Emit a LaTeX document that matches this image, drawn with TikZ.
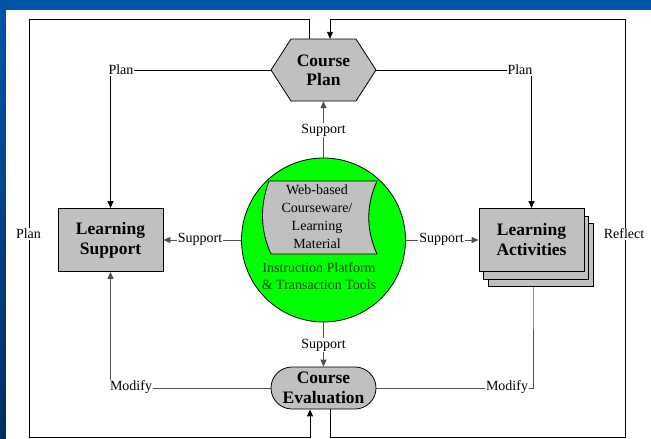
\documentclass[tikz,border=0pt]{standalone}
\usepackage{fontspec}
\setmainfont{Liberation Serif}
\usetikzlibrary{arrows.meta,calc}
\definecolor{bgblue}{RGB}{0,84,166}
\definecolor{bgdark}{RGB}{0,45,100}
\definecolor{boxgray}{RGB}{192,192,192}
\definecolor{platgreen}{RGB}{0,255,0}
\definecolor{txtgreen}{RGB}{0,70,0}
\definecolor{linegray}{RGB}{80,80,80}
\pgfdeclarelayer{bg}
\pgfdeclarelayer{conn}
\pgfsetlayers{bg,conn,main}
\tikzset{
  lbl/.style={fill=white,inner sep=1pt,font=\fontsize{14}{17}\selectfont},
  boldtxt/.style={font=\bfseries\fontsize{17.5}{20}\selectfont,align=center},
  gbox/.style={draw=black,fill=boxgray,line width=0.8pt,minimum width=105pt,minimum height=63pt,inner sep=0pt},
  conn/.style={draw=black,line width=0.9pt},
  gconn/.style={draw=linegray,line width=0.9pt},
  tip/.style={-{Triangle[length=7pt,width=6pt]}}
}
\begin{document}
\begin{tikzpicture}[x=1pt,y=-1pt]
\begin{pgfonlayer}{bg}
\fill[bgblue] (0,0) rectangle (651,439);
\shade[top color=bgblue,bottom color=bgdark] (0,10) rectangle (6,439);
\fill[white] (6,10) rectangle (651,439);
\end{pgfonlayer}
\useasboundingbox (0,0) rectangle (651,439);

% Course Plan hexagon
\fill[boxgray,draw=black,line width=0.8pt] (271,70) -- (291,39) -- (356,39) -- (376,70) -- (356,101) -- (291,101) -- cycle;
\node[boldtxt,minimum width=105pt,minimum height=62pt,inner sep=0pt] (plan) at (323.5,70) {Course\\[-1pt]Plan};

% Platform circle
\node[circle,draw=black,fill=platgreen,line width=0.8pt,minimum size=164pt,inner sep=0pt] (plat) at (323.5,240) {};
\draw[fill=boxgray,line width=0.8pt] (269,181) -- (377,181) .. controls (366,205) and (366,230) .. (377,254) -- (271,254) .. controls (260,230) and (260,205) .. (269,181) -- cycle;
\node[align=center,font=\fontsize{14}{18}\selectfont] (doc) at (317,217) {Web-based\\Courseware/\\Learning\\Material};
\node[align=center,text=txtgreen,font=\fontsize{14}{17}\selectfont] (inst) at (319,276.5) {Instruction Platform\\\& Transaction Tools};

% Learning Support
\node[gbox,boldtxt] (sup) at (110.5,240) {Learning\\Support};

% Learning Activities (stacked)
\node[gbox] (act3) at (540.5,255) {};
\node[gbox] (act2) at (536,248) {};
\node[gbox,boldtxt] (act) at (531.5,240) {Learning\\Activities};

% Course Evaluation
\node[draw=black,fill=boxgray,line width=0.8pt,rounded corners=21pt,minimum width=105pt,minimum height=42pt,inner sep=0pt,boldtxt] (eval) at (323.5,388) {Course\\Evaluation};

% labels
\node[lbl] (lplanL) at (121,70) {Plan};
\node[lbl] (lplanR) at (520,70) {Plan};
\node[lbl] (lplanO) at (28.5,234) {Plan};
\node[lbl] (lrefl) at (624,234) {Reflect};
\node[lbl] (lsupU) at (323.5,130) {Support};
\node[lbl] (lsupD) at (323.5,345) {Support};
\node[lbl] (lsupL) at (200,239) {Support};
\node[lbl] (lsupR) at (441.5,239) {Support};
\node[lbl] (lmodL) at (131,387) {Modify};
\node[lbl] (lmodR) at (507,387) {Modify};

\begin{pgfonlayer}{conn}
% outer loops
\draw[conn,tip] ($(plan.north)+(-14.5,0)$) -- ++(0,-19) -| (29,437) -| ($(eval.south)+(-13.5,0)$);
\draw[conn,tip] ($(eval.south)+(6.5,0)$) |- (625,437) |- ($(plan.north)+(6.5,-19)$) -- ($(plan.north)+(6.5,0)$);
% plan
\draw[conn,tip] (plan.west) -| (sup.north);
\draw[conn,tip] (plan.east) -| (act.north);
% support
\draw[gconn,tip] (plat.north) -- (plan.south);
\draw[gconn,tip] (plat.south) -- (eval.north);
\draw[gconn,tip] (plat.west) -- (sup.east);
\draw[gconn,tip] (plat.east) -- (act.west);
% modify
\draw[gconn,tip] (eval.west) -| (sup.south);
\draw[gconn] (eval.east) -| ($(act.south)+(1.5,0)$) -- ($(act3.south)+(-7.5,0)$);
\end{pgfonlayer}
\end{tikzpicture}
\end{document}
